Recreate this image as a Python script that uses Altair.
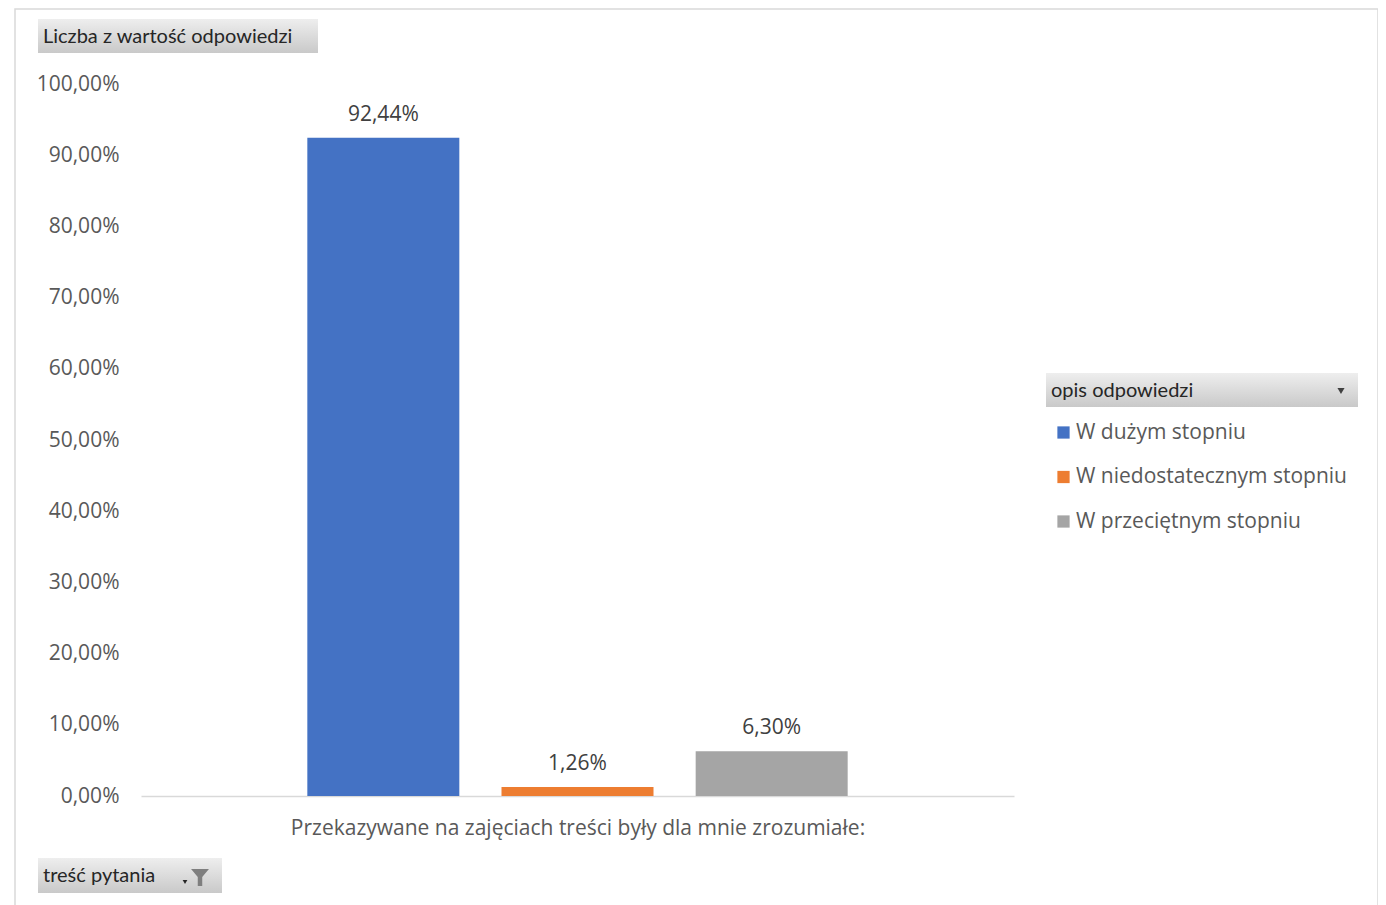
import altair as alt
import pandas as pd

categories = ["W dużym stopniu", "W niedostatecznym stopniu", "W przeciętnym stopniu"]
values = [0.9244, 0.0126, 0.0630]
labels = ["92,44%", "1,26%", "6,30%"]
colors = ["#4472C4", "#ED7D31", "#A5A5A5"]
y_title = "Liczba z wartość odpowiedzi"
legend_title = "opis odpowiedzi"
x_title = "Przekazywane na zajęciach treści były dla mnie zrozumiałe:"
filter_title = "treść pytania"

df = pd.DataFrame({"opis": categories, "val": values, "lab": labels})
one = pd.DataFrame({"a": [0]})

FONT = "Open Sans"
BTN_FONT = "Lato"
W, H = 873, 712

xenc = alt.X("opis:N", sort=categories,
             scale=alt.Scale(paddingInner=0.216, paddingOuter=0.856),
             axis=alt.Axis(labels=False, ticks=False, title=x_title,
                           domainColor="#d9d9d9", domainWidth=1.5,
                           titleFont=FONT, titleFontSize=21, titleFontWeight="normal",
                           titleColor="#595959", titlePadding=21))
yenc = alt.Y("val:Q", scale=alt.Scale(domain=[0, 1], nice=False),
             axis=alt.Axis(title=None, domain=False, ticks=False, grid=False,
                           values=[i / 10 for i in range(11)],
                           labelExpr="replace(format(datum.value, '.2%'), '.', ',')",
                           labelFont=FONT, labelFontSize=21, labelColor="#595959",
                           labelPadding=22))

bars = alt.Chart(df).mark_bar(size=152).encode(
    x=xenc, y=yenc,
    color=alt.Color("opis:N", sort=categories,
                    scale=alt.Scale(domain=categories, range=colors),
                    legend=alt.Legend(title=None, orient="none", legendX=912, legendY=338,
                                      symbolType="square", symbolSize=150, symbolStrokeWidth=0,
                                      labelFont=FONT, labelFontSize=21, labelColor="#595959",
                                      rowPadding=22.5, labelOffset=2, labelLimit=400)),
)

txt = alt.Chart(df).mark_text(font=FONT, fontSize=21, color="#404040", dy=-23).encode(
    x=alt.X("opis:N", sort=categories), y="val:Q", text="lab:N")

grad = alt.Gradient(gradient="linear",
                    stops=[alt.GradientStop(color="#eeeeee", offset=0),
                           alt.GradientStop(color="#c9c9c9", offset=1)],
                    x1=0, x2=0, y1=0, y2=1)

border = alt.Chart(one).mark_rect(fill="white", fillOpacity=0, stroke="#d9d9d9", strokeWidth=1.5).encode(
    x=alt.value(-126), x2=alt.value(1237), y=alt.value(-75), y2=alt.value(900))

btn1 = alt.Chart(one).mark_rect(fill=grad).encode(
    x=alt.value(-103), x2=alt.value(177), y=alt.value(-65), y2=alt.value(-31))
btn1t = alt.Chart(one).mark_text(text=y_title, font=BTN_FONT, fontSize=20, color="#262626",
                                 align="left", baseline="middle").encode(
    x=alt.value(-98), y=alt.value(-47))

btn2 = alt.Chart(one).mark_rect(fill=grad).encode(
    x=alt.value(905), x2=alt.value(1217), y=alt.value(289), y2=alt.value(323))
btn2t = alt.Chart(one).mark_text(text=legend_title, font=BTN_FONT, fontSize=20, color="#262626",
                                 align="left", baseline="middle").encode(
    x=alt.value(910), y=alt.value(307))
btn2a = alt.Chart(one).mark_point(shape="triangle-down", filled=True, size=50, color="#404040", opacity=1).encode(
    x=alt.value(1200), y=alt.value(307))

btn3 = alt.Chart(one).mark_rect(fill=grad).encode(
    x=alt.value(-103), x2=alt.value(81), y=alt.value(774), y2=alt.value(809))
btn3t = alt.Chart(one).mark_text(text=filter_title, font=BTN_FONT, fontSize=20, color="#262626",
                                 align="left", baseline="middle").encode(
    x=alt.value(-98), y=alt.value(792))
btn3a = alt.Chart(one).mark_point(shape="triangle-down", filled=True, size=22, color="#262626", opacity=1).encode(
    x=alt.value(44), y=alt.value(798))
funnel = alt.Chart(one).mark_point(
    shape="M-1,-0.9 L1,-0.9 L0.25,0 L0.25,1 L-0.25,1 L-0.25,0 Z",
    filled=True, size=320, color="#7f7f7f", opacity=1).encode(
    x=alt.value(59), y=alt.value(793))

chart = alt.layer(border, bars, txt, btn1, btn1t, btn2, btn2t, btn2a, btn3, btn3t, btn3a, funnel).properties(
    width=W, height=H,
    background="white",
    autosize=alt.AutoSizeParams(type="none"),
    padding={"left": 133, "top": 76, "right": 364, "bottom": 109},
).configure_view(stroke="transparent", strokeWidth=0)

chart.save("out.html", embed_options={"renderer": "svg", "actions": False})
